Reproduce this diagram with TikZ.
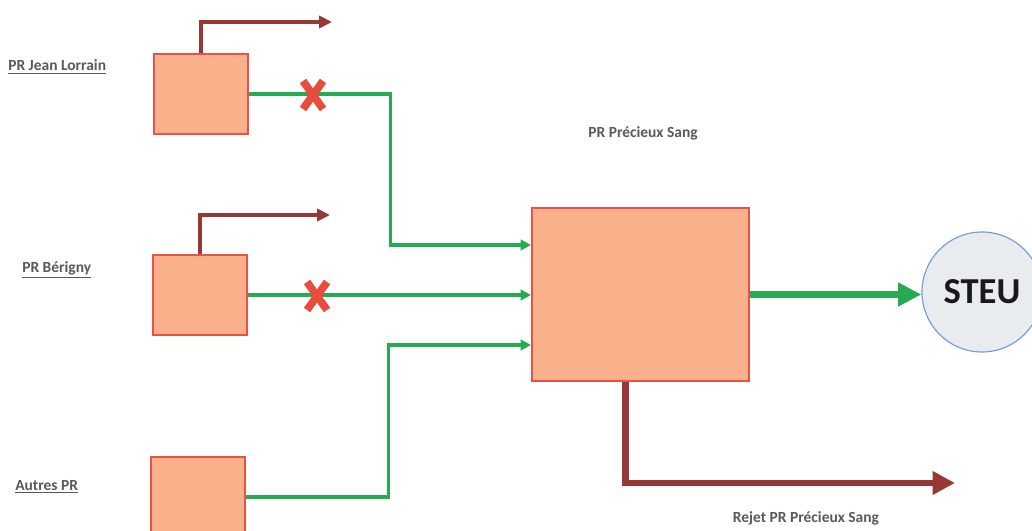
\documentclass[tikz,border=0pt]{standalone}
\usepackage{fontspec}
\setmainfont{Carlito}
\usetikzlibrary{arrows.meta,calc}
\definecolor{salmon}{RGB}{250,176,138}
\definecolor{tomato}{RGB}{232,82,74}
\definecolor{xred}{RGB}{232,76,60}
\definecolor{pipegreen}{RGB}{38,170,82}
\definecolor{rust}{RGB}{150,56,56}
\definecolor{mist}{RGB}{232,235,240}
\definecolor{sky}{RGB}{112,156,210}
\definecolor{slate}{RGB}{88,88,94}
\tikzset{
  station/.style={draw=tomato,fill=salmon,line width=1.3pt,
    minimum width=2.35cm,minimum height=2cm,inner sep=0pt},
  plant/.style={circle,draw=sky,fill=mist,line width=0.8pt,minimum size=3cm,
    inner sep=0pt,font=\fontsize{26}{30}\selectfont\bfseries,text=black!90},
  tag/.style={font=\fontsize{11}{13}\selectfont\bfseries,text=slate,inner sep=0pt},
  pipe/.style={draw=pipegreen,line width=2.2pt,-{Triangle[length=2.6mm,width=2.6mm]}},
  pipe out/.style={draw=pipegreen,line width=4.3pt,-{Triangle[length=5.8mm,width=5.6mm]}},
  drain/.style={draw=rust,line width=2.6pt,-{Triangle[length=3.2mm,width=3mm]}},
  drain out/.style={draw=rust,line width=4.3pt,-{Triangle[length=5.6mm,width=5.6mm]}},
  % closed valve
  pics/cut/.style={code={
    \draw[xred,line width=5.5pt] (-10,-14) -- (10,14) (-10,14) -- (10,-14);
  }},
}
\begin{document}
\begin{tikzpicture}[x=0.025cm,y=-0.025cm]
  \useasboundingbox (0,0) rectangle (1032,531);
  \begin{scope}
  \clip (0,0) rectangle (1032,531);
  % stations
  \node[station] (jl) at (201,94) {};
  \node[station] (be) at (200,295) {};
  \node[station] (ap) at (198,497) {};
  \node[station,minimum width=5.425cm,minimum height=4.325cm] (ps) at (640.5,294.5) {};
  \node[plant] (steu) at (982,292) {STEU};

  % labels
  \node[tag,anchor=west] (ljl) at (8,67) {\underline{PR Jean Lorrain}};
  \node[tag,anchor=west] (lbe) at (22,270) {\underline{PR Bérigny}};
  \node[tag,anchor=west] (lap) at (15,487) {\underline{Autres PR}};
  \node[tag] (lps) at (643,133) {PR Précieux Sang};
  \node[tag] (lrj) at (806,518) {Rejet PR Précieux Sang};

  % overflow outlets
  \coordinate (o1) at (332,22);
  \coordinate (o2) at (330,215);
  \coordinate (rj) at (955,483);
  \draw[drain] (jl.north) |- (o1);
  \draw[drain] (be.north) |- (o2);
  \draw[drain out] ($(ps.south)+(-15,0)$) |- (rj);

  % transfers
  \draw[pipe] (jl.east) -- ++(142,0) |- ($(ps.west)+(0,-49.5)$);
  \draw[pipe] (be.east) -- (be.east -| ps.west);
  \draw[pipe] (ap.east) -- ++(143,0) |- ($(ps.west)+(0,50.5)$);
  \draw[pipe out] (ps.east) -- (ps.east -| steu.west);

  \pic at (313,95) {cut};
  \pic at (317,296) {cut};
  \end{scope}
\end{tikzpicture}
\end{document}
